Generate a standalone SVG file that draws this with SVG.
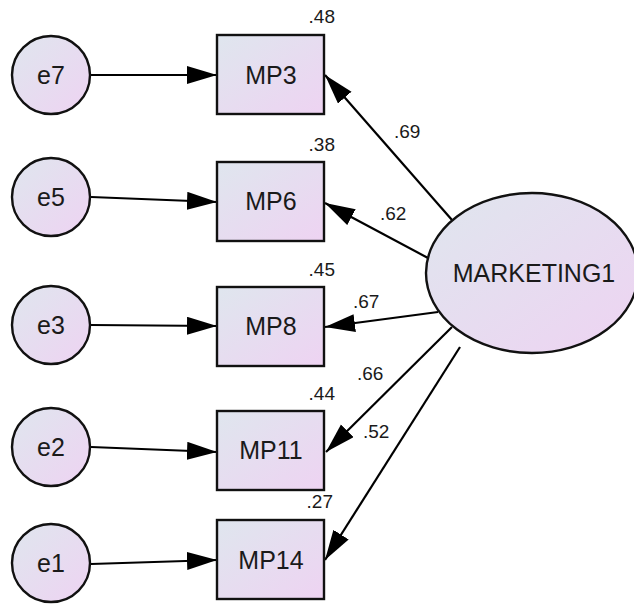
<svg xmlns="http://www.w3.org/2000/svg" width="634" height="605" viewBox="0 0 634 605">
<defs>
<linearGradient id="g" x1="0" y1="0" x2="1" y2="1">
<stop offset="0" stop-color="#dfe6ee"/>
<stop offset="1" stop-color="#eed3f2"/>
</linearGradient>
<marker id="ah" markerUnits="userSpaceOnUse" markerWidth="32" markerHeight="20" refX="30" refY="9" orient="auto" viewBox="0 0 32 20">
<path d="M0,0 L30,9 L0,18 z" fill="#000"/>
</marker>
</defs>
<style>
.n{fill:url(#g);stroke:#111;stroke-width:2.4}
.t{font-family:"Liberation Sans",Arial,sans-serif;font-size:25px;fill:#1a1a1a;text-anchor:middle}
.l{font-family:"Liberation Sans",Arial,sans-serif;font-size:19px;fill:#1a1a1a}
.c{stroke:#000;stroke-width:2.2;fill:none;marker-end:url(#ah)}
</style>
<rect width="634" height="605" fill="#fff"/>
<g id="connectors">
<line class="c" x1="91" y1="75" x2="217" y2="75"/>
<line class="c" x1="91" y1="197" x2="217" y2="202"/>
<line class="c" x1="91" y1="325" x2="217" y2="326"/>
<line class="c" x1="91" y1="447" x2="217" y2="452"/>
<line class="c" x1="91" y1="564" x2="217" y2="560"/>
<line class="c" x1="452" y1="220" x2="325" y2="75"/>
<line class="c" x1="428" y1="258" x2="325" y2="203"/>
<line class="c" x1="438" y1="312" x2="325" y2="327"/>
<line class="c" x1="452" y1="327" x2="326" y2="452"/>
<line class="c" x1="460" y1="347" x2="325" y2="560"/>
<text class="l" x="394" y="138">.69</text>
<text class="l" x="380" y="220">.62</text>
<text class="l" x="353" y="308">.67</text>
<text class="l" x="357" y="380">.66</text>
<text class="l" x="363" y="438">.52</text>
</g>
<g id="e7"><circle class="n" cx="51" cy="75" r="39"/><text class="t" x="51" y="84">e7</text></g>
<g id="e5"><circle class="n" cx="51" cy="197" r="39"/><text class="t" x="51" y="206">e5</text></g>
<g id="e3"><circle class="n" cx="51" cy="325" r="39"/><text class="t" x="51" y="334">e3</text></g>
<g id="e2"><circle class="n" cx="51" cy="447" r="39"/><text class="t" x="51" y="456">e2</text></g>
<g id="e1"><circle class="n" cx="51" cy="563" r="39"/><text class="t" x="51" y="572">e1</text></g>
<g id="MP3"><rect class="n" x="217" y="35" width="107" height="79"/><text class="t" x="271" y="84">MP3</text><text class="l" x="335" y="23" text-anchor="end">.48</text></g>
<g id="MP6"><rect class="n" x="217" y="162" width="107" height="79"/><text class="t" x="271" y="210">MP6</text><text class="l" x="335" y="151" text-anchor="end">.38</text></g>
<g id="MP8"><rect class="n" x="217" y="287" width="107" height="79"/><text class="t" x="271" y="335">MP8</text><text class="l" x="335" y="276" text-anchor="end">.45</text></g>
<g id="MP11"><rect class="n" x="217" y="411" width="107" height="79"/><text class="t" x="271" y="459">MP11</text><text class="l" x="335" y="400" text-anchor="end">.44</text></g>
<g id="MP14"><rect class="n" x="217" y="520" width="107" height="79"/><text class="t" x="271" y="569">MP14</text><text class="l" x="333" y="508" text-anchor="end">.27</text></g>
<g id="MARKETING1"><ellipse class="n" cx="532" cy="273" rx="106" ry="80"/><text class="t" x="534" y="282">MARKETING1</text></g>
</svg>
